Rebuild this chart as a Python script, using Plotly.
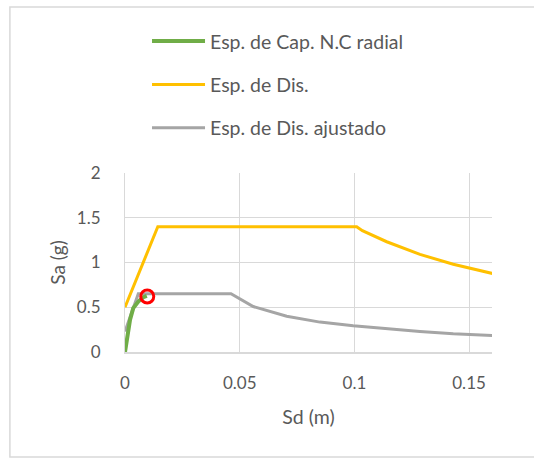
import plotly.graph_objects as go

# ---- data ----
cap_name = "Esp. de Cap. N.C radial"
cap_sd = [0.0, 0.0008, 0.0022, 0.0036, 0.0058, 0.0080, 0.0095]
cap_sa = [0.0, 0.12, 0.36, 0.49, 0.563, 0.612, 0.627]

dis_name = "Esp. de Dis."
dis_sd = [0.0, 0.0143, 0.101, 0.1035, 0.1141, 0.1286, 0.1431, 0.1606]
dis_sa = [0.5, 1.4, 1.4, 1.355, 1.232, 1.090, 0.980, 0.875]

adj_name = "Esp. de Dis. ajustado"
adj_sd = [0.0, 0.0058, 0.0462, 0.0559, 0.0705, 0.0850, 0.0995, 0.1141, 0.1286, 0.1431, 0.1548, 0.1606]
adj_sa = [0.23, 0.65, 0.65, 0.508, 0.400, 0.334, 0.293, 0.259, 0.230, 0.204, 0.187, 0.185]

perf_sd = [0.0097]
perf_sa = [0.62]

x_ticks = [0, 0.05, 0.1, 0.15]
x_tick_text = ["0", "0.05", "0.1", "0.15"]
y_ticks = [0, 0.5, 1, 1.5, 2]
y_tick_text = ["0", "0.5", "1", "1.5", "2"]

FONT = "Lato"
TXT = "#595959"
GRID = "#d9d9d9"

fig = go.Figure()
fig.add_trace(go.Scatter(x=dis_sd, y=dis_sa, mode="lines", name=dis_name,
                         line=dict(color="#FFC000", width=3), legendrank=2, legendgroup="b"))
fig.add_trace(go.Scatter(x=adj_sd, y=adj_sa, mode="lines", name=adj_name,
                         line=dict(color="#A5A5A5", width=3), legendrank=3, legendgroup="c"))
fig.add_trace(go.Scatter(x=cap_sd, y=cap_sa, mode="lines", name=cap_name,
                         line=dict(color="#70AD47", width=4), legendrank=1, legendgroup="a"))
fig.add_trace(go.Scatter(x=perf_sd, y=perf_sa, mode="markers", showlegend=False,
                         marker=dict(symbol="circle-open", size=13, color="#FF0000",
                                     line=dict(color="#FF0000", width=3))))

fig.update_layout(
    width=534, height=459,
    margin=dict(l=125, r=42, t=173, b=107, autoexpand=False),
    paper_bgcolor="white", plot_bgcolor="white",
    font=dict(family=FONT, color=TXT, size=17),
    legend=dict(orientation="v", x=0.060, xanchor="left", y=1.844, yanchor="top",
                font=dict(family=FONT, size=19.5, color=TXT), itemwidth=53,
                tracegroupgap=15, bgcolor="rgba(0,0,0,0)"),
    shapes=[dict(type="rect", xref="paper", yref="paper",
                 x0=-0.3136, x1=1.5, y0=-0.5862, y1=1.928,
                 line=dict(color=GRID, width=1.5), layer="below")],
)
fig.update_xaxes(range=[0, 0.16], tickvals=x_ticks, ticktext=x_tick_text,
                 showgrid=True, gridcolor=GRID, gridwidth=1, zeroline=False,
                 showline=True, linecolor=GRID, linewidth=1.5,
                 ticks="", ticklabelstandoff=15, tickfont=dict(size=17, color=TXT),
                 title=dict(text="Sd (m)", font=dict(size=19.5, color=TXT), standoff=18))
fig.update_yaxes(range=[0, 2], tickvals=y_ticks, ticktext=y_tick_text,
                 showgrid=True, gridcolor=GRID, gridwidth=1, zeroline=False,
                 showline=True, linecolor=GRID, linewidth=1,
                 ticks="", ticklabelstandoff=20, tickfont=dict(size=17, color=TXT),
                 title=dict(text="Sa (g)", font=dict(size=19, color=TXT), standoff=6))

fig.write_html("out.html", config={"displayModeBar": False},
               post_script="document.body.style.margin='0';document.body.style.overflow='hidden';")
